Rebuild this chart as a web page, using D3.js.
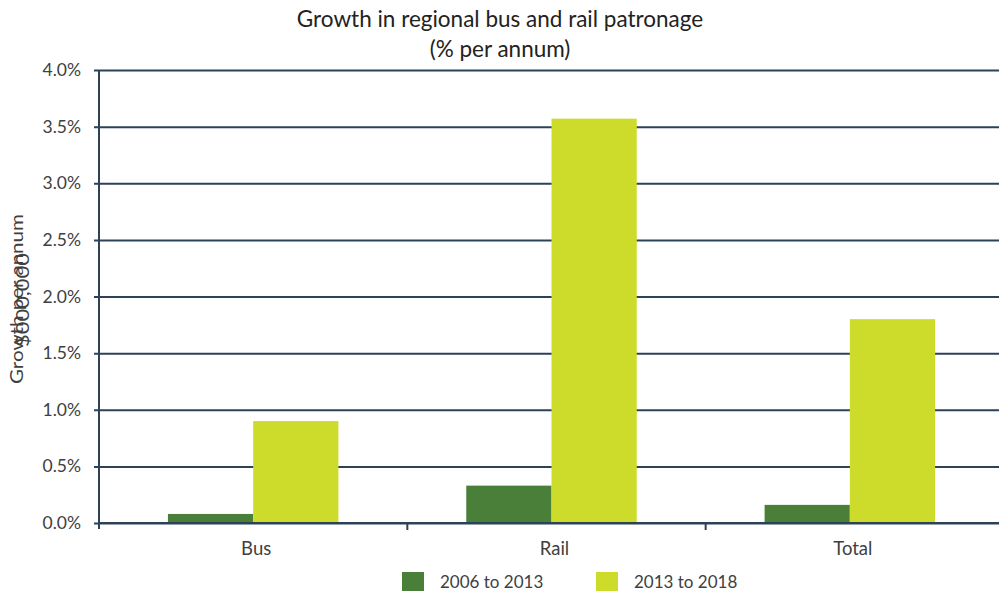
<!DOCTYPE html>
<html>
<head>
<meta charset="utf-8">
<script src="https://cdn.jsdelivr.net/npm/d3@7"></script>
<style>
  html, body { margin: 0; padding: 0; background: #fff; }
  svg { display: block; font-family: Lato, "Open Sans", sans-serif; }
</style>
</head>
<body>
<svg id="chart" width="999" height="592"></svg>
<script>
// Regional patronage growth, % per annum
const categories = ["Bus", "Rail", "Total"];
const seriesNames = ["2006 to 2013", "2013 to 2018"];
const growth2006to2013 = [0.08, 0.33, 0.16];
const growth2013to2018 = [0.90, 3.57, 1.80];
const yTicks = [0, 0.5, 1.0, 1.5, 2.0, 2.5, 3.0, 3.5, 4.0];

const seriesValues = [growth2006to2013, growth2013to2018];
const colors = ["#4a7f3a", "#cddc2a"];
const axisColor = "#2b4257";
const textColor = "#404040";
const fontFamily = "Lato, 'Open Sans', sans-serif";

const svg = d3.select("#chart");
const plot = { left: 99, right: 999, top: 70, bottom: 523 };

const x0 = d3.scaleBand().domain(categories).range([104, 999]);
const x1 = d3.scaleBand().domain(d3.range(seriesNames.length))
  .range([0, x0.bandwidth()]).paddingOuter(0.75);
const y = d3.scaleLinear().domain([0, 4]).range([plot.bottom, plot.top]);

// Title
const title = svg.append("text")
  .attr("text-anchor", "middle")
  .attr("fill", "#222").style("font-size", "22.5px");
title.append("tspan").attr("x", 500).attr("y", 27).text("Growth in regional bus and rail patronage");
title.append("tspan").attr("x", 500).attr("y", 57).text("(% per annum)");

// Gridlines and y labels
const yAxis = d3.axisLeft(y).tickValues(yTicks)
  .tickFormat(d => d.toFixed(1) + "%")
  .tickSize(-(plot.right - plot.left)).tickPadding(18);
const gy = svg.append("g").attr("transform", `translate(${plot.left},0)`).call(yAxis);
gy.select(".domain").remove();
gy.selectAll(".tick line").attr("stroke", axisColor).attr("stroke-width", 2).attr("x1", -5);
gy.selectAll(".tick text").attr("fill", textColor).style("font-size", "17.5px")
  .attr("font-family", fontFamily);

// Bars
const groups = svg.append("g").selectAll("g").data(categories).join("g")
  .attr("transform", d => `translate(${x0(d)},0)`);
groups.selectAll("rect")
  .data((c, i) => seriesValues.map((vals, s) => ({ s, v: vals[i] })))
  .join("rect")
  .attr("x", d => x1(d.s))
  .attr("width", x1.bandwidth())
  .attr("y", d => y(d.v))
  .attr("height", d => y(0) - y(d.v))
  .attr("fill", d => colors[d.s]);

// Axis lines
svg.append("line").attr("x1", plot.left).attr("x2", plot.right)
  .attr("y1", y(0)).attr("y2", y(0)).attr("stroke", axisColor).attr("stroke-width", 2);
svg.append("line").attr("x1", plot.left).attr("x2", plot.left)
  .attr("y1", plot.top).attr("y2", y(0) + 6).attr("stroke", axisColor).attr("stroke-width", 2);

// Category labels and separators on the x axis
const xAxis = d3.axisBottom(x0).tickSize(0).tickPadding(19);
const gx = svg.append("g").attr("transform", `translate(0,${y(0)})`).call(xAxis);
gx.select(".domain").remove();
gx.selectAll(".tick text").attr("fill", textColor).style("font-size", "18.5px")
  .attr("font-family", fontFamily)
  .attr("dx", 3);
svg.append("g").selectAll("line").data(categories.slice(1)).join("line")
  .attr("x1", d => x0(d) + 5).attr("x2", d => x0(d) + 5)
  .attr("y1", y(0)).attr("y2", y(0) + 7)
  .attr("stroke", axisColor).attr("stroke-width", 2);

// Y axis title (two overlapping labels)
svg.append("text").attr("transform", "translate(23,299) rotate(-90)")
  .attr("text-anchor", "middle").attr("fill", textColor).style("font-size", "17px")
  .attr("textLength", 170).attr("lengthAdjust", "spacingAndGlyphs")
  .text("Growth per annum");
svg.append("text").attr("transform", "translate(29,300) rotate(-90)")
  .attr("text-anchor", "middle").attr("fill", textColor).style("font-size", "17px")
  .attr("textLength", 94).attr("lengthAdjust", "spacingAndGlyphs")
  .text("$000,000");

// Legend
const legendX = [402, 596];
const lg = svg.append("g").selectAll("g").data(seriesNames).join("g")
  .attr("transform", (d, i) => `translate(${legendX[i]},572)`);
lg.append("rect").attr("width", 22).attr("height", 19).attr("fill", (d, i) => colors[i]);
lg.append("text").attr("x", 38).attr("y", 15.5).attr("fill", textColor)
  .style("font-size", "17px").text(d => d);
</script>
</body>
</html>
